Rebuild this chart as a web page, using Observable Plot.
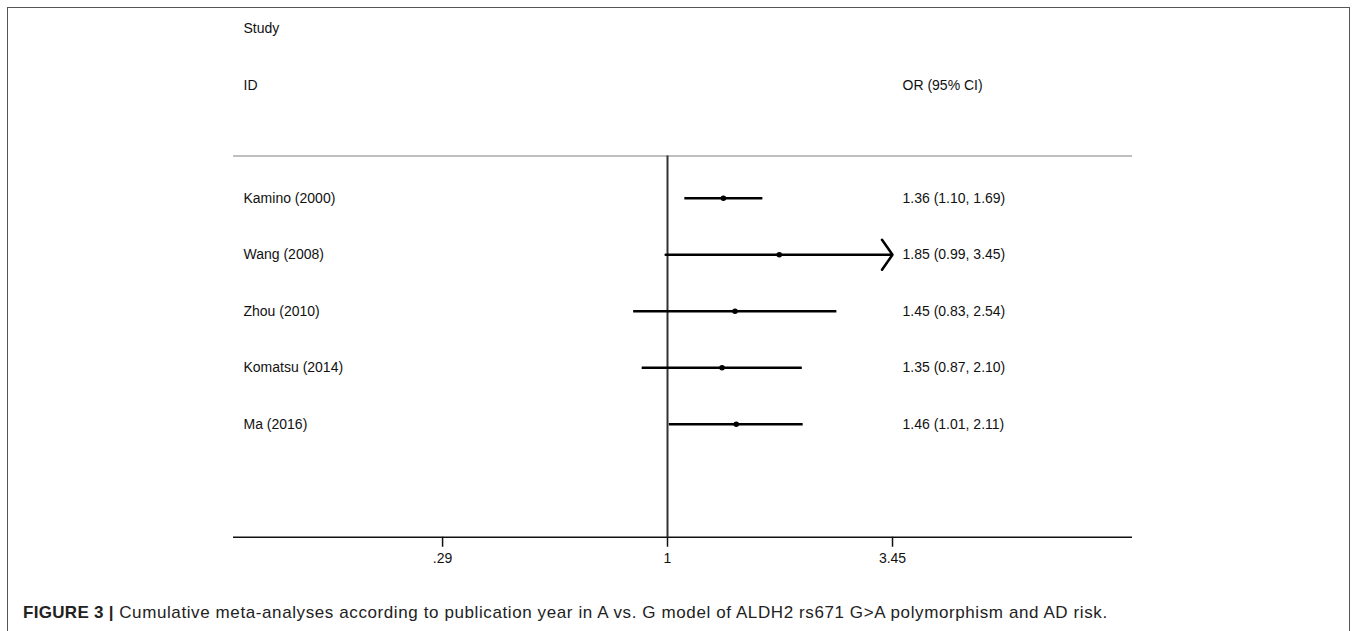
<!DOCTYPE html>
<html>
<head>
<meta charset="utf-8">
<script src="https://cdn.jsdelivr.net/npm/d3@7"></script>
<script src="https://cdn.jsdelivr.net/npm/@observablehq/plot@0.6"></script>
<style>
  html, body { margin: 0; padding: 0; background: #fff; }
  body { width: 1358px; height: 631px; position: relative; overflow: hidden; font-family: "Liberation Sans", Arial, sans-serif; }
  #frame { position: absolute; left: 7px; top: 7px; width: 1343px; height: 640px; border: 1.5px solid #555; box-sizing: border-box; }
  #chart { position: absolute; left: 0; top: 0; }
  #caption { position: absolute; left: 23px; top: 604px; font-size: 17px; letter-spacing: 0.6px; line-height: 1; color: #222; white-space: nowrap; }
  #caption b { font-weight: bold; letter-spacing: 0.3px; }
</style>
</head>
<body>
<div id="frame"></div>
<div id="chart"></div>
<div id="caption"><b>FIGURE 3 |</b> Cumulative meta-analyses according to publication year in A vs. G model of ALDH2 rs671 G&gt;A polymorphism and AD risk.</div>
<script>
const studies = ["Kamino (2000)", "Wang (2008)", "Zhou (2010)", "Komatsu (2014)", "Ma (2016)"];
const orValues = [1.36, 1.85, 1.45, 1.35, 1.46];
const lowerCI = [1.10, 0.99, 0.83, 0.87, 1.01];
const upperCI = [1.69, 3.45, 2.54, 2.10, 2.11];
const tickValues = [0.29, 1, 3.45];
const tickLabels = [".29", "1", "3.45"];
const headerStudy = ["Study", "ID"];
const headerEffect = "OR (95% CI)";

const axisMax = tickValues[tickValues.length - 1];
const rows = studies.map((s, i) => ({
  study: s, or: orValues[i], lo: lowerCI[i], hi: upperCI[i], row: i + 1,
  label: `${orValues[i].toFixed(2)} (${lowerCI[i].toFixed(2)}, ${upperCI[i].toFixed(2)})`,
  clipped: upperCI[i] >= axisMax
}));
const headerRows = headerStudy.map((t, i) => ({text: t, row: i - headerStudy.length}));

const font = "Liberation Sans, Arial, sans-serif";
const plot = Plot.plot({
  width: 1358,
  height: 580,
  marginLeft: 233,
  marginRight: 226,
  marginTop: 0,
  marginBottom: 43.25,
  style: {fontFamily: font, fontSize: "14px", color: "#111", background: "transparent"},
  x: {type: "log", domain: [0.09176, 12.925], axis: null},
  y: {type: "linear", domain: [-2.5, 7], reverse: true, axis: null},
  marks: [
    Plot.ruleY([0.25], {stroke: "#aaa", strokeWidth: 1.5}),
    Plot.ruleX([1], {y1: 0.25, y2: 7, stroke: "#333", strokeWidth: 2}),
    Plot.ruleY([7], {stroke: "#111", strokeWidth: 1.5}),
    Plot.axisX({ticks: tickValues, tickFormat: (d) => tickLabels[tickValues.indexOf(d)], tickSize: 10, tickPadding: 6, fontSize: 14, stroke: "#111", strokeWidth: 1.5, anchor: "bottom"}),
    Plot.ruleY(rows.filter(d => !d.clipped), {y: "row", x1: "lo", x2: "hi", stroke: "#000", strokeWidth: 2.5}),
    Plot.arrow(rows.filter(d => d.clipped), {x1: "lo", x2: () => axisMax, y1: "row", y2: "row", bend: 0, headAngle: 110, headLength: 11, stroke: "#000", strokeWidth: 2.5}),
    Plot.dot(rows, {x: "or", y: "row", r: 2.8, fill: "#000"}),
    Plot.text(rows, {y: "row", text: "study", frameAnchor: "left", dx: 10, textAnchor: "start", fontSize: 14, fill: "#111"}),
    Plot.text(headerRows, {y: "row", text: "text", frameAnchor: "left", dx: 10, textAnchor: "start", fontSize: 14, fill: "#111"}),
    Plot.text(rows, {x: () => axisMax, y: "row", text: "label", dx: 10, textAnchor: "start", fontSize: 14, fill: "#111"}),
    Plot.text([headerEffect], {x: () => axisMax, y: () => -1, text: d => d, dx: 10, textAnchor: "start", fontSize: 14, fill: "#111"})
  ]
});
document.getElementById("chart").appendChild(plot);
</script>
</body>
</html>
